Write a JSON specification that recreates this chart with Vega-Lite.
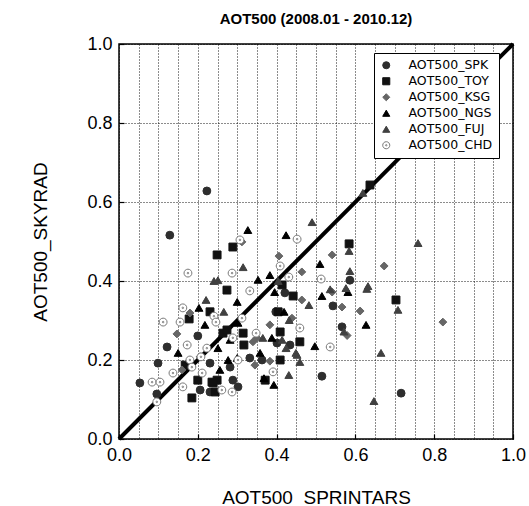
{
  "$schema": "https://vega.github.io/schema/vega-lite/v6.json",
  "width": 394,
  "height": 395,
  "autosize": {"type": "none"},
  "padding": {"left": 119, "top": 44, "right": 16, "bottom": 67},
  "background": "#ffffff",
  "title": {"text": "AOT500 (2008.01 - 2010.12)", "font": "Liberation Sans", "fontSize": 15, "fontWeight": "bold", "color": "#000", "anchor": "middle", "offset": 8},
  "config": {
    "view": {"stroke": "#000", "strokeWidth": 1.5},
    "axis": {"labelFont": "Liberation Sans", "titleFont": "Liberation Sans", "labelFontSize": 18, "titleFontSize": 19, "titleFontWeight": "normal", "labelColor": "#000", "titleColor": "#000", "domain": false, "gridDash": [1, 2], "gridColor": "#000", "gridOpacity": 0.9, "gridWidth": 1, "tickColor": "#000", "tickSize": -5, "tickWidth": 1.2}
  },
  "encoding": {
    "x": {"field": "x", "type": "quantitative", "scale": {"domain": [0, 1], "nice": false, "zero": false},
      "axis": {"values": [0,0.05,0.1,0.15,0.2,0.25,0.3,0.35,0.4,0.45,0.5,0.55,0.6,0.65,0.7,0.75,0.8,0.85,0.9,0.95,1.0],
        "labelExpr": "abs(datum.value*5 - round(datum.value*5)) < 0.001 ? format(datum.value, '.1f') : ''",
        "tickOpacity": {"condition": {"test": "abs(datum.value*5 - round(datum.value*5)) < 0.001", "value": 1}, "value": 0},
        "labelPadding": 12, "title": "AOT500_SPRINTARS", "titleY": 58, "titleBaseline": "middle", "labelFlush": false, "labelOverlap": false}},
    "y": {"field": "y", "type": "quantitative", "scale": {"domain": [0, 1], "nice": false, "zero": false},
      "axis": {"values": [0, 0.2, 0.4, 0.6, 0.8, 1.0], "format": ".1f", "labelPadding": 12, "title": "AOT500_SKYRAD", "titleX": -79, "titleBaseline": "middle", "labelFlush": false}}
  },
  "layer": [
    {
      "data": {"values": [{"x": 0, "y": 0}, {"x": 1, "y": 1}]},
      "mark": {"type": "line", "color": "#000", "strokeWidth": 4, "clip": false},
      "encoding": {}
    },
    {
      "data": {"values": [
        {"s":"AOT500_SPK","x":0.223,"y":0.628},{"s":"AOT500_SPK","x":0.129,"y":0.516},{"s":"AOT500_SPK","x":0.586,"y":0.402},{"s":"AOT500_SPK","x":0.543,"y":0.337},{"s":"AOT500_SPK","x":0.566,"y":0.284},{"s":"AOT500_SPK","x":0.716,"y":0.116},{"s":"AOT500_SPK","x":0.515,"y":0.159},{"s":"AOT500_SPK","x":0.421,"y":0.370},{"s":"AOT500_SPK","x":0.434,"y":0.238},{"s":"AOT500_SPK","x":0.122,"y":0.233},{"s":"AOT500_SPK","x":0.200,"y":0.261},{"s":"AOT500_SPK","x":0.099,"y":0.192},{"s":"AOT500_SPK","x":0.053,"y":0.142},{"s":"AOT500_SPK","x":0.206,"y":0.124},{"s":"AOT500_SPK","x":0.231,"y":0.119},{"s":"AOT500_SPK","x":0.096,"y":0.114},{"s":"AOT500_SPK","x":0.332,"y":0.205},{"s":"AOT500_SPK","x":0.401,"y":0.243},{"s":"AOT500_SPK","x":0.363,"y":0.200},{"s":"AOT500_SPK","x":0.398,"y":0.322},{"s":"AOT500_SPK","x":0.302,"y":0.132},{"s":"AOT500_SPK","x":0.282,"y":0.182},{"s":"AOT500_SPK","x":0.289,"y":0.149},{"s":"AOT500_SPK","x":0.231,"y":0.192},
        {"s":"AOT500_TOY","x":0.637,"y":0.643},{"s":"AOT500_TOY","x":0.584,"y":0.494},{"s":"AOT500_TOY","x":0.703,"y":0.352},{"s":"AOT500_TOY","x":0.289,"y":0.486},{"s":"AOT500_TOY","x":0.249,"y":0.466},{"s":"AOT500_TOY","x":0.274,"y":0.377},{"s":"AOT500_TOY","x":0.231,"y":0.322},{"s":"AOT500_TOY","x":0.178,"y":0.304},{"s":"AOT500_TOY","x":0.442,"y":0.362},{"s":"AOT500_TOY","x":0.409,"y":0.271},{"s":"AOT500_TOY","x":0.459,"y":0.246},{"s":"AOT500_TOY","x":0.409,"y":0.200},{"s":"AOT500_TOY","x":0.315,"y":0.268},{"s":"AOT500_TOY","x":0.317,"y":0.238},{"s":"AOT500_TOY","x":0.264,"y":0.268},{"s":"AOT500_TOY","x":0.168,"y":0.187},{"s":"AOT500_TOY","x":0.200,"y":0.149},{"s":"AOT500_TOY","x":0.236,"y":0.144},{"s":"AOT500_TOY","x":0.185,"y":0.104},{"s":"AOT500_TOY","x":0.244,"y":0.119},{"s":"AOT500_TOY","x":0.371,"y":0.149},{"s":"AOT500_TOY","x":0.404,"y":0.322},{"s":"AOT500_TOY","x":0.249,"y":0.149},{"s":"AOT500_TOY","x":0.274,"y":0.276},{"s":"AOT500_TOY","x":0.414,"y":0.390},{"s":"AOT500_TOY","x":0.239,"y":0.142},
        {"s":"AOT500_KSG","x":0.312,"y":0.499},{"s":"AOT500_KSG","x":0.406,"y":0.463},{"s":"AOT500_KSG","x":0.541,"y":0.466},{"s":"AOT500_KSG","x":0.673,"y":0.438},{"s":"AOT500_KSG","x":0.464,"y":0.423},{"s":"AOT500_KSG","x":0.541,"y":0.372},{"s":"AOT500_KSG","x":0.464,"y":0.352},{"s":"AOT500_KSG","x":0.566,"y":0.334},{"s":"AOT500_KSG","x":0.612,"y":0.324},{"s":"AOT500_KSG","x":0.822,"y":0.296},{"s":"AOT500_KSG","x":0.383,"y":0.289},{"s":"AOT500_KSG","x":0.340,"y":0.246},{"s":"AOT500_KSG","x":0.345,"y":0.187},{"s":"AOT500_KSG","x":0.383,"y":0.197},{"s":"AOT500_KSG","x":0.180,"y":0.319},{"s":"AOT500_KSG","x":0.147,"y":0.266},{"s":"AOT500_KSG","x":0.206,"y":0.208},{"s":"AOT500_KSG","x":0.160,"y":0.175},{"s":"AOT500_KSG","x":0.350,"y":0.256},{"s":"AOT500_KSG","x":0.579,"y":0.262},{"s":"AOT500_KSG","x":0.439,"y":0.306},
        {"s":"AOT500_NGS","x":0.327,"y":0.529},{"s":"AOT500_NGS","x":0.424,"y":0.516},{"s":"AOT500_NGS","x":0.510,"y":0.443},{"s":"AOT500_NGS","x":0.353,"y":0.403},{"s":"AOT500_NGS","x":0.383,"y":0.415},{"s":"AOT500_NGS","x":0.515,"y":0.362},{"s":"AOT500_NGS","x":0.581,"y":0.372},{"s":"AOT500_NGS","x":0.627,"y":0.289},{"s":"AOT500_NGS","x":0.419,"y":0.322},{"s":"AOT500_NGS","x":0.497,"y":0.235},{"s":"AOT500_NGS","x":0.388,"y":0.256},{"s":"AOT500_NGS","x":0.358,"y":0.218},{"s":"AOT500_NGS","x":0.368,"y":0.154},{"s":"AOT500_NGS","x":0.393,"y":0.137},{"s":"AOT500_NGS","x":0.203,"y":0.332},{"s":"AOT500_NGS","x":0.300,"y":0.347},{"s":"AOT500_NGS","x":0.150,"y":0.218},{"s":"AOT500_NGS","x":0.277,"y":0.200},{"s":"AOT500_NGS","x":0.256,"y":0.175},{"s":"AOT500_NGS","x":0.218,"y":0.289},{"s":"AOT500_NGS","x":0.302,"y":0.294},{"s":"AOT500_NGS","x":0.300,"y":0.205},{"s":"AOT500_NGS","x":0.282,"y":0.251},{"s":"AOT500_NGS","x":0.251,"y":0.230},{"s":"AOT500_NGS","x":0.395,"y":0.372},
        {"s":"AOT500_FUJ","x":0.619,"y":0.623},{"s":"AOT500_FUJ","x":0.759,"y":0.496},{"s":"AOT500_FUJ","x":0.584,"y":0.476},{"s":"AOT500_FUJ","x":0.490,"y":0.549},{"s":"AOT500_FUJ","x":0.586,"y":0.425},{"s":"AOT500_FUJ","x":0.632,"y":0.387},{"s":"AOT500_FUJ","x":0.708,"y":0.327},{"s":"AOT500_FUJ","x":0.571,"y":0.272},{"s":"AOT500_FUJ","x":0.665,"y":0.218},{"s":"AOT500_FUJ","x":0.647,"y":0.096},{"s":"AOT500_FUJ","x":0.315,"y":0.435},{"s":"AOT500_FUJ","x":0.241,"y":0.400},{"s":"AOT500_FUJ","x":0.251,"y":0.402},{"s":"AOT500_FUJ","x":0.221,"y":0.352},{"s":"AOT500_FUJ","x":0.266,"y":0.322},{"s":"AOT500_FUJ","x":0.482,"y":0.339},{"s":"AOT500_FUJ","x":0.536,"y":0.379},{"s":"AOT500_FUJ","x":0.432,"y":0.301},{"s":"AOT500_FUJ","x":0.414,"y":0.251},{"s":"AOT500_FUJ","x":0.424,"y":0.230},{"s":"AOT500_FUJ","x":0.449,"y":0.218},{"s":"AOT500_FUJ","x":0.459,"y":0.195},{"s":"AOT500_FUJ","x":0.431,"y":0.162},{"s":"AOT500_FUJ","x":0.365,"y":0.256},{"s":"AOT500_FUJ","x":0.629,"y":0.380},{"s":"AOT500_FUJ","x":0.576,"y":0.382},{"s":"AOT500_FUJ","x":0.452,"y":0.213},{"s":"AOT500_FUJ","x":0.404,"y":0.400},
        {"s":"AOT500_CHD","x":0.307,"y":0.504},{"s":"AOT500_CHD","x":0.452,"y":0.506},{"s":"AOT500_CHD","x":0.409,"y":0.438},{"s":"AOT500_CHD","x":0.287,"y":0.420},{"s":"AOT500_CHD","x":0.175,"y":0.420},{"s":"AOT500_CHD","x":0.431,"y":0.410},{"s":"AOT500_CHD","x":0.513,"y":0.405},{"s":"AOT500_CHD","x":0.332,"y":0.375},{"s":"AOT500_CHD","x":0.459,"y":0.281},{"s":"AOT500_CHD","x":0.536,"y":0.233},{"s":"AOT500_CHD","x":0.348,"y":0.268},{"s":"AOT500_CHD","x":0.391,"y":0.170},{"s":"AOT500_CHD","x":0.112,"y":0.296},{"s":"AOT500_CHD","x":0.155,"y":0.296},{"s":"AOT500_CHD","x":0.162,"y":0.332},{"s":"AOT500_CHD","x":0.173,"y":0.238},{"s":"AOT500_CHD","x":0.223,"y":0.230},{"s":"AOT500_CHD","x":0.180,"y":0.200},{"s":"AOT500_CHD","x":0.208,"y":0.208},{"s":"AOT500_CHD","x":0.137,"y":0.167},{"s":"AOT500_CHD","x":0.084,"y":0.144},{"s":"AOT500_CHD","x":0.104,"y":0.144},{"s":"AOT500_CHD","x":0.162,"y":0.132},{"s":"AOT500_CHD","x":0.211,"y":0.167},{"s":"AOT500_CHD","x":0.261,"y":0.124},{"s":"AOT500_CHD","x":0.287,"y":0.119},{"s":"AOT500_CHD","x":0.096,"y":0.094},{"s":"AOT500_CHD","x":0.241,"y":0.311},{"s":"AOT500_CHD","x":0.246,"y":0.296},{"s":"AOT500_CHD","x":0.312,"y":0.306},{"s":"AOT500_CHD","x":0.302,"y":0.200},{"s":"AOT500_CHD","x":0.185,"y":0.182},{"s":"AOT500_CHD","x":0.289,"y":0.256}
      ]},
      "mark": {"type": "point", "filled": true, "size": 62, "strokeWidth": 1, "opacity": 1},
      "encoding": {
        "shape": {"field": "s", "type": "nominal",
          "scale": {"domain": ["AOT500_SPK","AOT500_TOY","AOT500_KSG","AOT500_NGS","AOT500_FUJ","AOT500_CHD"],
            "range": ["circle","square","diamond","triangle-up","triangle-up","M-1,0A1,1,0,1,1,1,0A1,1,0,1,1,-1,0Z M-0.2,0A0.2,0.2,0,1,1,0.2,0A0.2,0.2,0,1,1,-0.2,0Z"]},
          "legend": {"orient": "none", "legendX": 255, "legendY": 9, "title": null, "fillColor": "#fff", "strokeColor": "#000", "padding": 6, "symbolOffset": 0, "labelOffset": 16, "labelFont": "DejaVu Sans", "labelFontSize": 12.5, "rowPadding": 3, "symbolSize": 50, "symbolStrokeWidth": 1,
            "encode": {"labels": {"update": {"fill": [{"test": "datum.value === 'AOT500_TOY' || datum.value === 'AOT500_NGS'", "value": "#1a1a1a"}, {"test": "datum.value === 'AOT500_KSG' || datum.value === 'AOT500_CHD'", "value": "#7a7a7a"}, {"value": "#555555"}]}}}}},
        "fill": {"field": "s", "type": "nominal",
          "scale": {"domain": ["AOT500_SPK","AOT500_TOY","AOT500_KSG","AOT500_NGS","AOT500_FUJ","AOT500_CHD"], "range": ["#2e2e2e","#111111","#666666","#000000","#404040","#ffffff"]}},
        "stroke": {"field": "s", "type": "nominal",
          "scale": {"domain": ["AOT500_SPK","AOT500_TOY","AOT500_KSG","AOT500_NGS","AOT500_FUJ","AOT500_CHD"], "range": ["#2e2e2e","#111111","#666666","#000000","#404040","#777777"]}}
      }
    }
  ]
}
